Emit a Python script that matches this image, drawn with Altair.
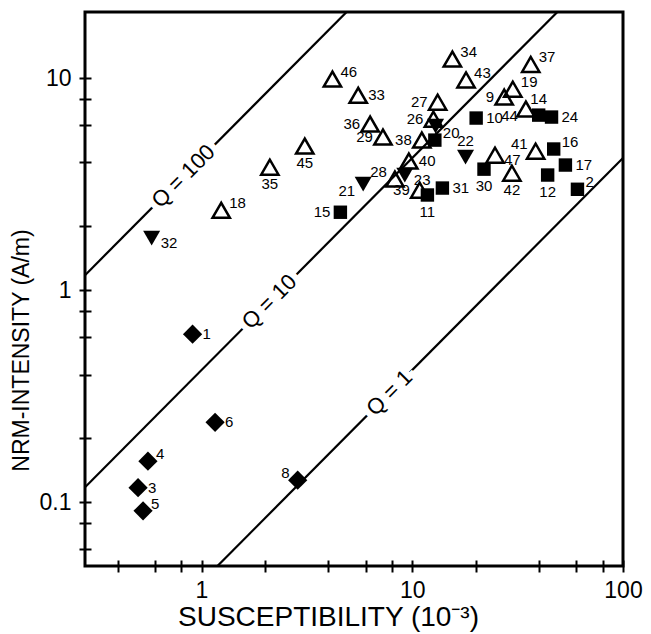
import altair as alt
import pandas as pd

# ---- data ----
# open triangles
tri_id = ["46", "33", "36", "29", "35", "45", "18", "34", "43", "27", "26", "38",
          "40", "28", "39", "37", "19", "9", "44", "47", "42", "41"]
tri_x = [4.18, 5.54, 6.31, 7.26, 2.11, 3.09, 1.24, 15.5, 18.0, 13.2, 12.6, 11.1,
         9.63, 8.27, 10.85, 36.5, 30.0, 27.3, 34.6, 24.7, 29.7, 38.5]
tri_y = [9.9, 8.3, 6.07, 5.27, 3.8, 4.78, 2.38, 12.3, 9.8, 7.7, 6.4, 5.1,
         4.06, 3.34, 2.96, 11.6, 8.87, 8.14, 7.14, 4.33, 3.56, 4.52]
# filled squares
sq_id = ["15", "11", "31", "30", "10", "14", "24", "16", "17", "12", "2", "20"]
sq_x = [4.56, 11.8, 13.9, 21.9, 20.1, 39.8, 45.8, 46.9, 53.3, 43.9, 60.8, 12.8]
sq_y = [2.33, 2.81, 3.03, 3.72, 6.48, 6.69, 6.55, 4.63, 3.89, 3.49, 2.99, 5.1]
# filled down triangles
down_id = ["21", "23", "22", "32", ""]
down_x = [5.85, 9.22, 17.9, 0.58, 12.9]
down_y = [3.16, 3.49, 4.24, 1.76, 5.94]
# filled diamonds
dia_id = ["1", "6", "4", "3", "5", "8"]
dia_x = [0.907, 1.16, 0.557, 0.50, 0.528, 2.86]
dia_y = [0.62, 0.238, 0.156, 0.117, 0.091, 0.127]

# Koenigsberger ratio lines  NRM = Q * K * susceptibility
q_values = [1, 10, 100]
q_labels = ["Q = 1", "Q = 10", "Q = 100"]
q_label_x = [7.8, 2.1, 0.82]
K = 0.042
x_ends = [0.28, 100]

x_ticks = [0.4, 0.6, 0.8, 1, 2, 4, 6, 8, 10, 20, 40, 60, 80, 100]
y_ticks = [0.06, 0.08, 0.1, 0.2, 0.4, 0.6, 0.8, 1, 2, 4, 6, 8, 10]

# label placement groups
side_ur = ["46", "34", "43", "37", "19", "20", "16", "2", "18", "4", "5"]
side_r = ["33", "40", "31", "10", "24", "17", "1", "6", "3"]
side_rd = ["32", "47", "23"]
side_l = ["38", "26", "27", "36", "29", "39", "15", "9"]
side_ul = ["28", "41", "8"]
side_ld = ["21", "44"]
side_b = ["35", "45", "11", "30", "42", "12"]
side_t = ["22", "14"]

# ---- tables ----
pts = pd.concat([
    pd.DataFrame({"id": tri_id, "x": tri_x, "y": tri_y, "kind": "open"}),
    pd.DataFrame({"id": sq_id, "x": sq_x, "y": sq_y, "kind": "square"}),
    pd.DataFrame({"id": down_id, "x": down_x, "y": down_y, "kind": "down"}),
    pd.DataFrame({"id": dia_id, "x": dia_x, "y": dia_y, "kind": "diamond"}),
], ignore_index=True)

lines = pd.DataFrame([
    {"q": q, "x": xe, "y": q * K * xe} for q in q_values for xe in x_ends
])
qlab = pd.DataFrame({"q": q_values, "label": q_labels, "x": q_label_x,
                     "y": [q * K * x for q, x in zip(q_values, q_label_x)]})

FONT = "Liberation Sans"
xs = alt.Scale(type="log", domain=[0.28, 100], nice=False)
ys = alt.Scale(type="log", domain=[0.05, 20.5], nice=False)

x_axis = alt.Axis(
    values=x_ticks,
    labelExpr="datum.value==1||datum.value==10||datum.value==100 ? datum.value+'' : ''",
    domain=False, grid=False, offset=-6, tickSize=12, tickWidth=2, tickColor="black",
    labelFont=FONT, labelFontSize=23, labelColor="black", labelPadding=7,
    labelFlush=False, labelOverlap=False, labelBound=False,
    title="SUSCEPTIBILITY      (10⁻³)", titleFont=FONT, titleFontSize=28,
    titleFontWeight="normal", titleColor="black", titlePadding=1, titleX=243,
)
y_axis = alt.Axis(
    values=y_ticks,
    labelExpr="datum.value==0.1||datum.value==1||datum.value==10 ? datum.value+'' : ''",
    domain=False, grid=False, offset=-6, tickSize=12, tickWidth=2, tickColor="black",
    labelFont=FONT, labelFontSize=23, labelColor="black", labelPadding=8,
    labelFlush=False, labelOverlap=False, labelBound=False,
    title="NRM-INTENSITY    (A/m)", titleFont=FONT, titleFontSize=23,
    titleFontWeight="normal", titleColor="black", titleX=-58, titleY=338,
)

X = alt.X("x:Q", scale=xs, axis=x_axis)
Y = alt.Y("y:Q", scale=ys, axis=y_axis)

line_layer = alt.Chart(lines).mark_line(color="black", strokeWidth=2.2, clip=True).encode(
    x=X, y=Y, detail="q:N")

halo = alt.Chart(qlab).mark_text(font=FONT, fontSize=22, angle=315, stroke="white",
                                 strokeWidth=12, color="white").encode(x=X, y=Y, text="label:N")
qtext = alt.Chart(qlab).mark_text(font=FONT, fontSize=22, angle=315, color="black").encode(
    x=X, y=Y, text="label:N")

base = alt.Chart(pts)
open_tri = base.transform_filter(alt.datum.kind == "open").mark_point(
    shape="triangle-up", size=300, filled=False, stroke="black", strokeWidth=2.5, opacity=1
).encode(x=X, y=Y)
squares = base.transform_filter(alt.datum.kind == "square").mark_point(
    shape="square", size=180, filled=True, color="black", opacity=1).encode(x=X, y=Y)
downs = base.transform_filter(alt.datum.kind == "down").mark_point(
    shape="triangle-down", size=290, filled=True, color="black", opacity=1).encode(x=X, y=Y)
diamonds = base.transform_filter(alt.datum.kind == "diamond").mark_point(
    shape="diamond", size=370, filled=True, color="black", opacity=1).encode(x=X, y=Y)

placements = [
    (side_ur, "left", 8, -7),
    (side_r, "left", 10, 0),
    (side_rd, "left", 9, 5),
    (side_l, "right", -10, 0),
    (side_ul, "right", -8, -7),
    (side_ld, "right", -8, 7),
    (side_b, "center", 0, 17),
    (side_t, "center", 0, -16),
]
label_layers = []
for ids, align, dx, dy in placements:
    label_layers.append(
        base.transform_filter(alt.FieldOneOfPredicate(field="id", oneOf=ids)).mark_text(
            font=FONT, fontSize=15, color="black", align=align, baseline="middle", dx=dx, dy=dy
        ).encode(x=X, y=Y, text="id:N")
    )

chart = alt.layer(line_layer, halo, qtext, open_tri, squares, downs, diamonds, *label_layers).properties(
    width=538, height=554,
    padding={"left": 77, "top": 4, "right": 20, "bottom": 68},
    autosize=alt.AutoSizeParams(type="none"),
    background="white",
).configure_view(stroke="black", strokeWidth=3)

chart.save("out.html", embed_options={"renderer": "svg", "actions": False})
